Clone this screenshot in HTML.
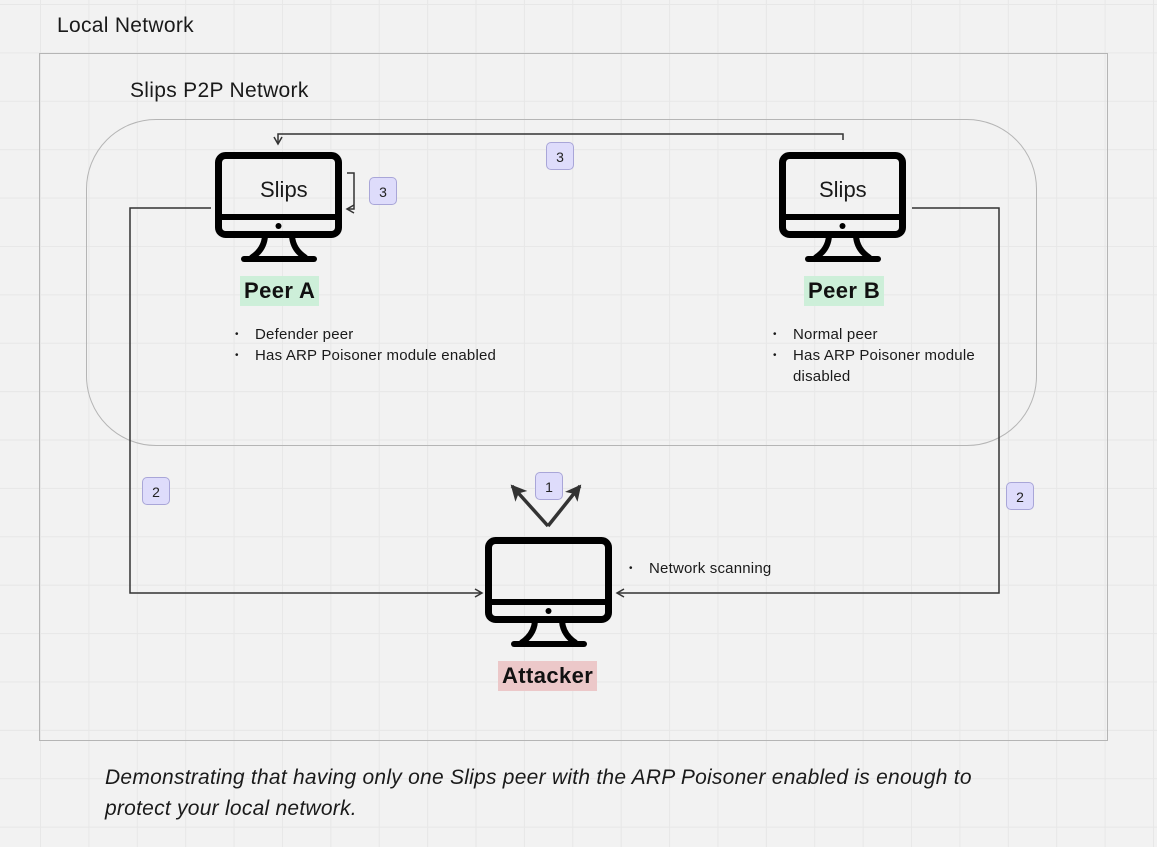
<!DOCTYPE html>
<html><head><meta charset="utf-8"><style>
html,body{margin:0;padding:0}
body{width:1157px;height:847px;background-color:#f2f2f2;
background-image:linear-gradient(to right,#e7e7e7 1px,transparent 1px),linear-gradient(to bottom,#e7e7e7 1px,transparent 1px);
background-size:48.4px 48.4px;background-position:40px 4px;position:relative;overflow:hidden;
font-family:"Liberation Sans","DejaVu Sans",sans-serif;color:#1a1a1a}
.t{position:absolute;white-space:nowrap}
.badge{position:absolute;width:28px;height:28px;border:1px solid #a9a6d8;background:#dedcfb;border-radius:5px;font-size:14px;text-align:center;line-height:28px;box-sizing:border-box;color:#222}
.lab{position:absolute;font-weight:bold;font-size:22px;padding:0 4px;line-height:30px;color:#111;letter-spacing:0.4px}
.ul{position:absolute;font-size:15px;line-height:21px;margin:0;padding:0;list-style:none;letter-spacing:0.2px}
.ul li{position:relative;padding-left:20px}
.ul li:before{content:"•";position:absolute;left:0;font-size:10px}
</style></head><body>
<div class="t" style="left:57px;top:14px;font-size:21px;letter-spacing:0.3px">Local Network</div>
<div style="position:absolute;left:39px;top:53px;width:1067px;height:686px;border:1px solid #b5b5b5"></div>
<div class="t" style="left:130px;top:79px;font-size:21px;letter-spacing:0.3px">Slips P2P Network</div>
<div style="position:absolute;left:86px;top:119px;width:949px;height:325px;border:1px solid #b5b5b5;border-radius:70px"></div>

<svg width="1157" height="847" style="position:absolute;left:0;top:0">
<defs>
<marker id="a" markerWidth="10" markerHeight="10" refX="8" refY="5" orient="auto" markerUnits="userSpaceOnUse"><path d="M1,1 L8,5 L1,9" fill="none" stroke="#333" stroke-width="1.5"/></marker>
<marker id="b" markerWidth="18" markerHeight="18" refX="14" refY="9" orient="auto" markerUnits="userSpaceOnUse"><path d="M0,1 L16,9 L0,17 L4,9z" fill="#333"/></marker>
<g id="m">
<rect x="3.5" y="3.5" width="120" height="79" rx="7" fill="none" stroke="#000" stroke-width="7"/>
<line x1="3" y1="65" x2="124" y2="65" stroke="#000" stroke-width="6"/>
<circle cx="63.5" cy="74" r="3" fill="#000"/>
<path d="M50,84 Q49,98 36,106 M77,84 Q78,98 91,106" fill="none" stroke="#000" stroke-width="6"/>
<line x1="29" y1="107" x2="99" y2="107" stroke="#000" stroke-width="6" stroke-linecap="round"/>
</g>
</defs>
<use href="#m" x="215" y="152"/>
<use href="#m" x="779" y="152"/>
<use href="#m" x="485" y="537"/>
<g fill="none" stroke="#333" stroke-width="1.5">
<path d="M843,140 V134 H278 V144" marker-end="url(#a)"/>
<path d="M347,173 H354 V209 H347" marker-end="url(#a)"/>
<path d="M211,208 H130 V593 H482" marker-end="url(#a)"/>
<path d="M912,208 H999 V593 H617" marker-end="url(#a)"/>
</g>
<g stroke="#333" stroke-width="3.5">
<line x1="548" y1="526" x2="512" y2="486" marker-end="url(#b)"/>
<line x1="548" y1="526" x2="580" y2="486" marker-end="url(#b)"/>
</g>
</svg>
<div class="t" style="left:260px;top:177px;font-size:22px">Slips</div>
<div class="t" style="left:819px;top:177px;font-size:22px">Slips</div>
<div class="badge" style="left:369px;top:177px">3</div>
<div class="badge" style="left:546px;top:142px">3</div>
<div class="badge" style="left:142px;top:477px">2</div>
<div class="badge" style="left:1006px;top:482px">2</div>
<div class="badge" style="left:535px;top:472px">1</div>
<div class="lab" style="left:240px;top:276px;background:#cdefd9">Peer A</div>
<div class="lab" style="left:804px;top:276px;background:#cdefd9">Peer B</div>
<div class="lab" style="left:498px;top:661px;background:#ecc8c9">Attacker</div>
<ul class="ul" style="left:235px;top:324px"><li>Defender peer</li><li>Has ARP Poisoner module enabled</li></ul>
<ul class="ul" style="left:773px;top:324px;width:230px"><li>Normal peer</li><li>Has ARP Poisoner module disabled</li></ul>
<ul class="ul" style="left:629px;top:558px"><li>Network scanning</li></ul>
<div class="t" style="left:105px;top:762px;font-size:21px;font-style:italic;line-height:31px;white-space:normal;width:900px;letter-spacing:0.25px">Demonstrating that having only one Slips peer with the ARP Poisoner enabled is enough to protect your local network.</div>
</body></html>
